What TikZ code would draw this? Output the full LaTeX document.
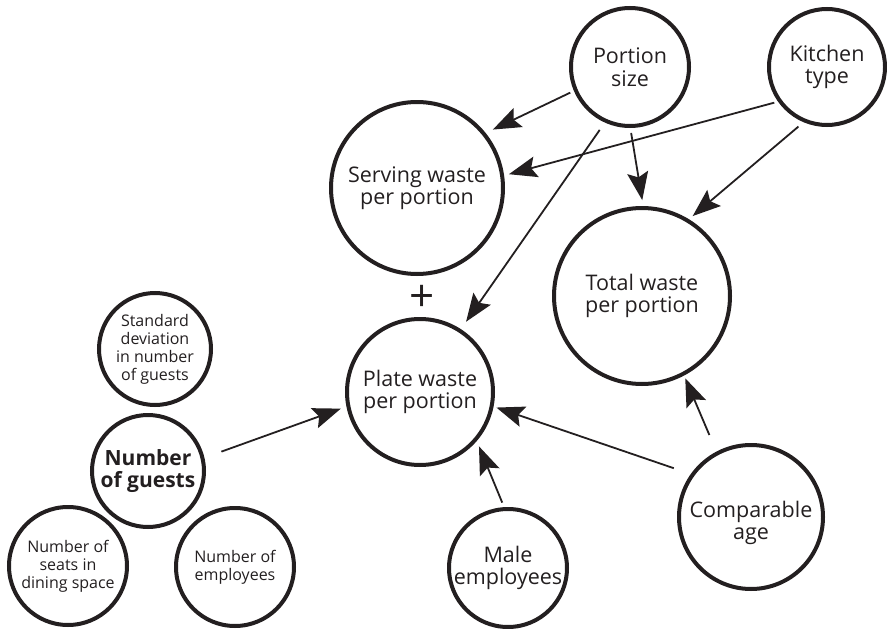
\documentclass[tikz,border=0pt]{standalone}
\usepackage{fontspec}
\setmainfont{Open Sans}
\usetikzlibrary{arrows.meta}
\definecolor{ink}{HTML}{231F20}
\begin{document}
\begin{tikzpicture}[x=1pt,y=-1pt,
  bub/.style={circle,draw=ink,line width=4pt,inner sep=0pt,outer sep=0pt,align=center,text=ink},
  big/.style={bub,font=\fontsize{21.5}{22.5}\selectfont},
  bigbold/.style={bub,font=\fontsize{21}{22}\selectfont\bfseries},
  small/.style={bub,font=\fontsize{16}{18}\selectfont},
  label/.style={text=ink,align=center,inner sep=0pt,font=\fontsize{21.5}{22.5}\selectfont},
  arr/.style={draw=ink,line width=1.8pt,-{Stealth[length=28pt,width=21pt,inset=5pt]}}]
\useasboundingbox (0,0) rectangle (887,629);
\node[big,minimum size=118pt] (portion) at (630,67) {Portion\\size};
\node[big,minimum size=116pt] (kitchen) at (827,67) {Kitchen\\type};
\node[big,minimum size=172pt] (serving) at (417,188) {Serving waste\\per portion};
\node[big,minimum size=176pt] (total) at (642,296) {Total waste\\per portion};
\node[big,minimum size=146pt] (plate) at (420,392) {Plate waste\\per portion};
\node[big,minimum size=118pt] (male) at (508,568) {Male\\employees};
\node[big,minimum size=144pt] (comparable) at (751,517) {};
\node[label] (comparabletext) at ([yshift=-6pt]comparable.center) {Comparable\\age};
\node[small,minimum size=112pt] (std) at (155,349) {Standard\\deviation\\in number\\of guests};
\node[bigbold,minimum size=112pt] (guests) at (148,471) {Number\\of guests};
\node[small,minimum size=118pt] (seats) at (68,566) {Number of\\seats in\\dining space};
\node[small,minimum size=118pt] (employees) at (235,567) {Number of\\employees};
\node[text=ink,font=\fontsize{44}{44}\selectfont,inner sep=0pt] (plus) at (422,298) {+};
\draw[arr,shorten <=6pt,shorten >=10pt] (portion.203) -- (serving.39);
\draw[arr,shorten <=11pt,shorten >=11pt] (portion.246) -- (plate.57);
\draw[arr,shorten <=7pt,shorten >=8pt] (portion.270) -- (total.89);
\draw[arr,shorten <=6pt,shorten >=7pt] (kitchen.216) -- (serving.8);
\draw[arr,shorten <=9pt,shorten >=7pt] (kitchen.248) -- (total.59);
\draw[arr,shorten <=20pt,shorten >=8pt] (guests.13) -- (plate.191);
\draw[arr,shorten <=20pt,shorten >=5pt] (comparable.144) -- (plate.349);
\draw[arr,shorten <=20pt,shorten >=5pt] (comparable.118) -- (total.298);
\draw[arr,shorten <=7pt,shorten >=8pt] (male.93) -- (plate.320);
\end{tikzpicture}
\end{document}
